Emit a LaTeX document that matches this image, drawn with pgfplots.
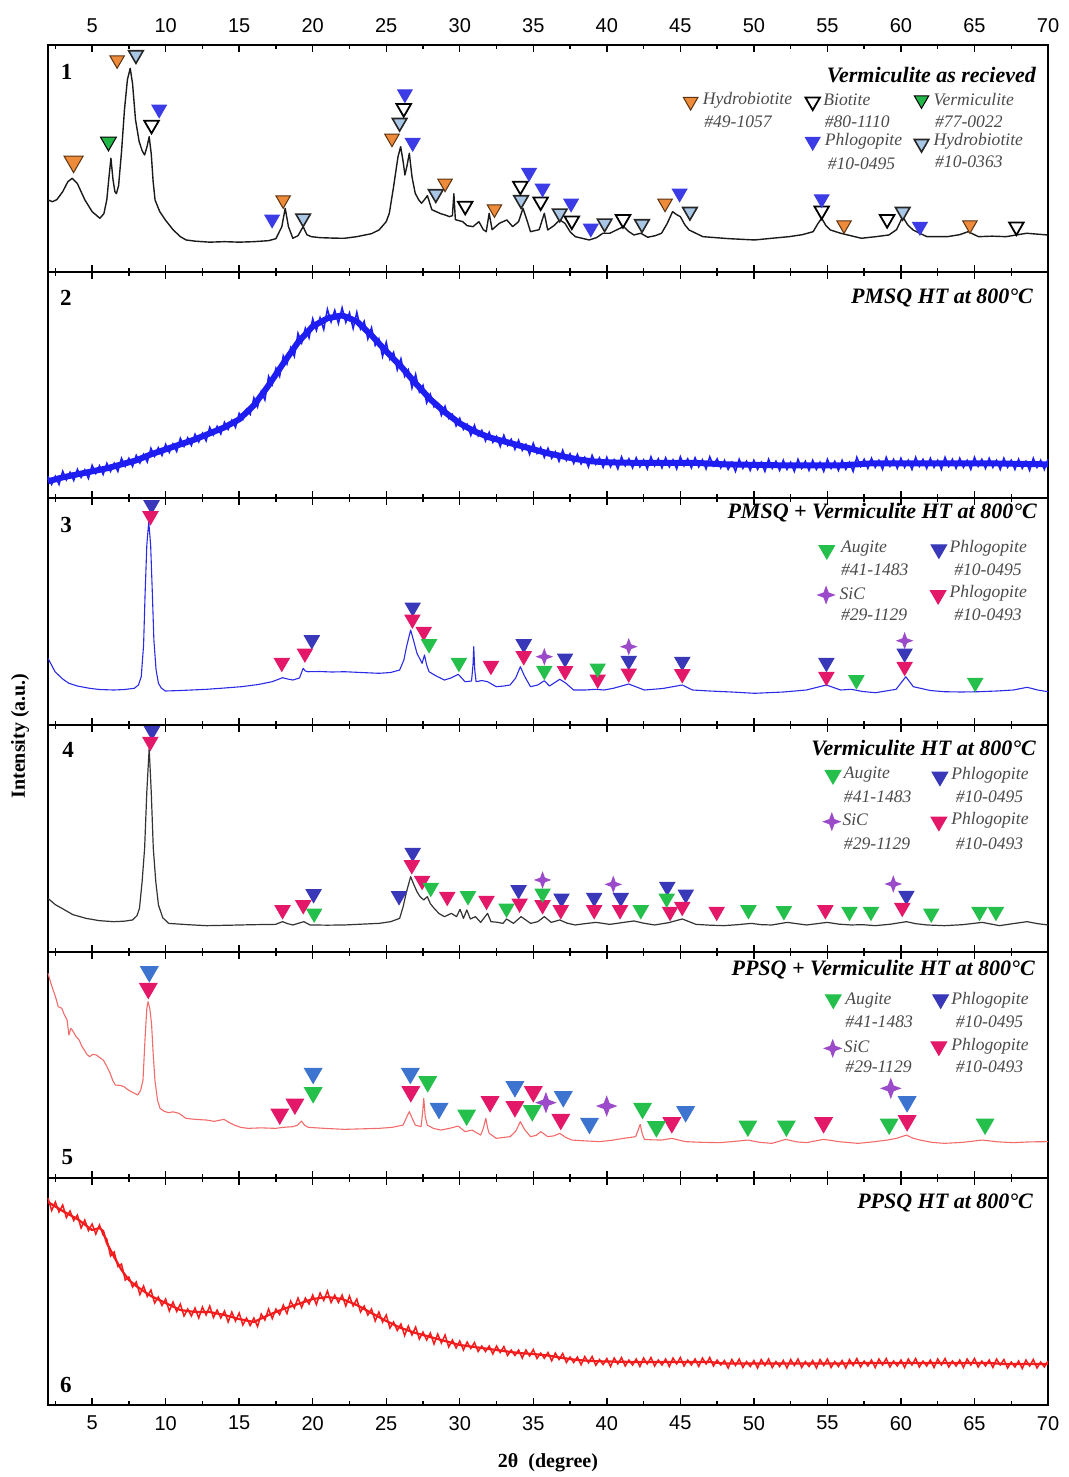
\documentclass[border=0pt]{standalone}
\usepackage{fontspec}
\setmainfont{Liberation Serif}
\setsansfont{Liberation Sans}
\usepackage{pgfplots}
\pgfplotsset{compat=1.18}

\definecolor{orgC}{HTML}{EE8B3A}
\definecolor{orgD}{HTML}{5A3210}
\definecolor{grnC}{HTML}{22B548}
\definecolor{bluC}{HTML}{3C3CE6}
\definecolor{lbC}{HTML}{A9C6E4}
\definecolor{dblu}{HTML}{3838B8}
\definecolor{mag}{HTML}{E31868}
\definecolor{pur}{HTML}{9B4BC9}
\definecolor{grn2}{HTML}{25C04C}
\definecolor{blu5}{HTML}{3D74CF}
\definecolor{lgray}{HTML}{4A4A4A}
\definecolor{tr1}{HTML}{1A1A1A}
\definecolor{tr2}{HTML}{1E1EF2}
\definecolor{tr3}{HTML}{2B2BE6}
\definecolor{tr4}{HTML}{333333}
\definecolor{tr5}{HTML}{F26B6B}
\definecolor{tr6}{HTML}{F21C1C}

\pgfdeclareplotmark{dtri}{%
  \pgfpathmoveto{\pgfqpoint{-0.866\pgfplotmarksize}{0.5\pgfplotmarksize}}%
  \pgfpathlineto{\pgfqpoint{0.866\pgfplotmarksize}{0.5\pgfplotmarksize}}%
  \pgfpathlineto{\pgfqpoint{0pt}{-\pgfplotmarksize}}%
  \pgfpathclose
  \pgfusepathqfillstroke}
\pgfdeclareplotmark{star4}{%
  \pgfpathmoveto{\pgfqpoint{0pt}{\pgfplotmarksize}}%
  \pgfpathlineto{\pgfqpoint{0.27\pgfplotmarksize}{0.27\pgfplotmarksize}}%
  \pgfpathlineto{\pgfqpoint{\pgfplotmarksize}{0pt}}%
  \pgfpathlineto{\pgfqpoint{0.27\pgfplotmarksize}{-0.27\pgfplotmarksize}}%
  \pgfpathlineto{\pgfqpoint{0pt}{-\pgfplotmarksize}}%
  \pgfpathlineto{\pgfqpoint{-0.27\pgfplotmarksize}{-0.27\pgfplotmarksize}}%
  \pgfpathlineto{\pgfqpoint{-\pgfplotmarksize}{0pt}}%
  \pgfpathlineto{\pgfqpoint{-0.27\pgfplotmarksize}{0.27\pgfplotmarksize}}%
  \pgfpathclose
  \pgfusepathqfill}

\pgfplotsset{
  xrdpanel/.style={
    scale only axis, width=500pt, height=113.33pt,
    xmin=2, xmax=70, ymin=0, ymax=226.67,
    xtick={5,10,...,70}, minor xtick={2.5,7.5,...,67.5}, ytick=\empty,
    tick align=inside,
    major tick length=3.5pt, minor tick length=2pt,
    every tick/.style={black, line width=0.7pt},
    axis line style={black, line width=1.1pt},
    clip=false, anchor=south west,
    tick label style={font=\fontsize{10}{12}\selectfont\sffamily},
    /pgf/number format/assume math mode=true,
  },
  mk/.style n args={3}{only marks, mark=dtri, mark size=#1, mark options={fill=#2, draw=#3, line width=0.5pt}},
  st/.style n args={2}{only marks, mark=star4, mark size=#1, mark options={fill=#2, draw=#2}},
}
\tikzset{
  ttl/.style={anchor=east, inner sep=0pt, font=\fontsize{11}{12}\selectfont\bfseries\itshape},
  lg/.style={anchor=west, inner sep=0pt, text=lgray, font=\fontsize{8.8}{10}\selectfont\itshape},
  pn/.style={anchor=west, inner sep=0pt, font=\fontsize{11.5}{12}\selectfont\bfseries},
}

\begin{document}
\begin{tikzpicture}

% ---------------- Panel 1 ----------------
\begin{axis}[xrdpanel, at={(24pt,-135.83pt)}, xticklabel pos=right, xtick pos=both, xticklabel style={yshift=2.5pt}]
\addplot[color=tr1, line width=0.7pt, line join=round] coordinates {
(2.0,71.7)(2.3,70)(2.6,72)(3.0,80)(3.35,90)(3.65,93.4)(4.0,88)(4.5,72)(5.0,60)(5.53,53.4)(5.8,58)(6.0,72)(6.15,95)(6.28,113.4)(6.42,92)(6.55,80)(6.65,78)(6.8,86)(7.0,120)(7.2,162)(7.4,192)(7.59,203.4)(7.75,188)(7.95,152)(8.2,130)(8.4,121)(8.57,116.7)(8.75,126)(8.88,135)(9.02,118)(9.15,90)(9.28,71.7)(9.6,60)(9.98,51.7)(10.5,42)(11.0,35)(11.39,31.7)(12,30.5)(13,29.5)(14,30)(15,29.5)(16,30)(17,31)(17.5,33)(17.9,45)(18.13,63.4)(18.35,45)(18.65,33.4)(19.0,36)(19.35,45)(19.6,37)(19.9,35)(20.5,34)(21.5,33.5)(22.16,33.4)(23,35)(24,38)(24.51,41.7)(25.0,50)(25.21,58.4)(25.5,85)(25.8,115)(25.98,125)(26.15,110)(26.27,96.7)(26.4,105)(26.57,118.4)(26.75,95)(26.97,78.4)(27.2,72)(27.4,68.4)(27.6,72)(27.8,76)(28.1,62)(28.4,60)(28.7,58)(29.0,56.7)(29.3,55)(29.5,56)(29.6,78)(29.7,52)(30.2,50)(30.5,46)(30.9,45)(31.3,50)(31.6,42)(31.8,40)(32.0,58.4)(32.2,42)(32.7,48.4)(33.2,51.7)(33.6,45)(34.0,50)(34.3,63.4)(34.6,50)(34.81,40)(35.4,42)(35.75,58.4)(35.98,41.7)(36.4,46)(36.8,51.7)(37.15,48.4)(37.5,40)(37.85,35)(38.8,31.7)(39.3,34)(39.73,38.4)(40.2,38.4)(40.7,42)(41.14,45)(41.5,40)(41.84,36.7)(42.31,38.4)(42.78,34.4)(43.3,36)(43.72,38.4)(44.1,48)(44.47,60)(44.75,57)(45.0,55)(45.3,47)(45.59,41.7)(46.53,35)(48.3,33)(50.05,31.7)(51.3,33.5)(52.39,35)(53.3,37)(54.03,40)(54.35,48)(54.61,53.4)(54.9,46)(55.2,41.7)(55.9,38.4)(57.31,33.4)(58.3,35)(59.18,36.7)(59.7,42)(60.12,55)(60.45,47)(60.82,41.7)(61.76,35)(63.16,35)(64.0,37)(64.57,40)(65.27,35)(66.2,35.5)(67.15,35)(68.55,38.4)(69.96,36.7)};
\addplot[mk={5.5pt}{orgC}{orgD}] coordinates {(3.74,110)};
\addplot[mk={4.2pt}{orgC}{orgD}] coordinates {(6.7,211.7)(17.99,71.7)(25.39,133.4)(29.0,88.4)(32.36,62.7)(43.96,68.4)(56.13,46.7)(64.69,46.7)};
\addplot[mk={4.6pt}{grnC}{black}] coordinates {(6.11,130)};
\addplot[only marks, mark=dtri, mark size=4.2pt, mark options={fill=lbC, draw=black!85, line width=0.8pt}] coordinates {(7.98,216.7)(19.35,53.4)(25.91,149)(28.37,77.7)(34.17,71.7)(36.8,58.4)(39.85,48.4)(42.39,47.7)(45.65,60)(60.12,60)};
\addplot[only marks, mark=dtri, mark size=4.2pt, mark options={fill=white, draw=black, line width=0.9pt}] coordinates {(9.04,146.7)(26.19,163.4)(30.37,65.7)(34.12,85.7)(35.5,70)(37.62,51)(41.1,52.4)(54.61,61)(59.06,52.4)(67.85,45)};
\addplot[mk={4.2pt}{bluC}{bluC}] coordinates {(9.56,162.4)(17.24,52.4)(26.27,177.7)(26.8,129)(34.71,99)(35.63,83.4)(37.57,68.4)(38.91,43.4)(44.95,78.4)(54.61,72.7)(61.29,45)};
% legend markers
\addplot[mk={4.2pt}{orgC}{orgD}] coordinates {(45.7,170)};
\addplot[only marks, mark=dtri, mark size=4.2pt, mark options={fill=white, draw=black, line width=0.9pt}] coordinates {(54.0,170)};
\addplot[mk={4.2pt}{grnC}{black}] coordinates {(61.4,171.7)};
\addplot[mk={4.2pt}{bluC}{bluC}] coordinates {(54.0,130)};
\addplot[only marks, mark=dtri, mark size=4.2pt, mark options={fill=lbC, draw=black!85, line width=0.8pt}] coordinates {(61.4,128)};
\node[ttl] at (axis cs:69.2,196.7) {Vermiculite as recieved};
\node[lg] at (axis cs:46.5,171.7) {Hydrobiotite};
\node[lg] at (axis cs:46.6,150) {\#49-1057};
\node[lg] at (axis cs:54.7,171.7) {Biotite};
\node[lg] at (axis cs:54.8,150) {\#80-1110};
\node[lg] at (axis cs:62.2,171.7) {Vermiculite};
\node[lg] at (axis cs:62.3,150) {\#77-0022};
\node[lg] at (axis cs:54.8,130) {Phlogopite};
\node[lg] at (axis cs:55.0,108.4) {\#10-0495};
\node[lg] at (axis cs:62.2,130) {Hydrobiotite};
\node[lg] at (axis cs:62.3,110) {\#10-0363};
\node[pn] at (axis cs:2.85,200) {1};
\end{axis}

% ---------------- Panel 2 ----------------
\begin{axis}[xrdpanel, at={(24pt,-249.17pt)}, xtick pos=both, xticklabels={}]
\addplot[color=tr2, line width=3pt, line join=round] coordinates {
(2,17)(3,21)(4,24)(5,27)(6,30)(7,34)(8,38)(9,44)(10,49)(11,54)(12,59)(13,65)(14,71)(15,79)(16,93)(17,113)(18,135)(19,156)(20,172)(21,180)(22,183)(23,177)(24,163)(25,147)(26,132)(27,115)(28,99)(29,86)(30,75)(31,67)(32,61)(33,57)(34,53)(35,49)(36,45)(37,42)(38,39)(39,37)(40,36)(42,35.5)(46,35.5)(48,34)(52,33)(56,33)(58,35)(66,35)(68,34.5)(70,34)};
\addplot[color=tr2, line width=0.8pt] coordinates {
(2,22)(2.25,14)(2.5,22)(2.75,14)(3,27)(3.25,18.5)(3.5,26)(3.75,18)(4,29)(4.25,21)(4.5,28.5)(4.75,20)(5,33)(5.25,25)(5.5,32.5)(5.75,24)(6,35)(6.25,27)(6.5,35)(6.75,27)(7,40)(7.25,32)(7.5,40)(7.75,32)(8,43)(8.25,35.5)(8.5,44)(8.75,36.5)(9,50)(9.25,42)(9.5,50.5)(9.75,43)(10,54)(10.25,46)(10.5,54.5)(10.75,47)(11,60)(11.25,52)(11.5,60.5)(11.75,53)(12,64)(12.25,56.5)(12.5,65)(12.75,57.5)(13,71)(13.25,63.5)(13.5,72)(13.75,64.5)(14,76)(14.25,69)(14.5,78)(14.75,71)(15,85)(15.25,79)(15.5,89)(15.75,84)(16,100.5)(16.25,91.5)(16.5,106.5)(16.75,98.5)(17,122)(17.25,114)(17.5,130)(17.75,122)(18,142.5)(18.25,134.5)(18.5,150.5)(18.75,142)(19,165)(19.25,155.5)(19.5,170)(19.75,160.5)(20,179.5)(20.25,168)(20.5,180.5)(20.75,169)(21,189)(21.25,176.5)(21.5,188)(21.75,175)(22,190.5)(22.25,176)(22.5,185.5)(22.75,170)(23,186)(23.25,169.5)(23.5,177)(23.75,159.5)(24,170.5)(24.25,153)(24.5,159.5)(24.75,142)(25,156)(25.25,139)(25.5,146)(25.75,128.5)(26,139.5)(26.25,122)(26.5,128.5)(26.75,110.5)(27,124)(27.25,106.5)(27.5,113)(27.75,95.5)(28,104)(28.25,91.5)(28.5,95)(28.75,83)(29,92)(29.25,80)(29.5,84)(29.75,72.5)(30,80)(30.25,69)(30.5,74)(30.75,63)(31,73)(31.25,62.5)(31.5,68)(31.75,57.5)(32,66)(32.25,56)(32.5,62)(32.75,52)(33,63)(33.25,53)(33.5,59)(33.75,49)(34,58)(34.25,48)(34.5,54)(34.75,44)(35,55)(35.25,45)(35.5,51)(35.75,41)(36,50)(36.25,40)(36.5,46.5)(36.75,37)(37,48)(37.25,38)(37.5,44.5)(37.75,35)(38,44)(38.25,34.5)(38.5,41)(38.75,31.5)(39,43)(39.25,34)(39.5,40.5)(39.75,31)(40,41)(40.25,31.5)(40.5,38.5)(40.75,29.5)(41,41.5)(41.25,32.5)(41.5,39.5)(41.75,30.5)(42,40.5)(42.25,31.5)(42.5,38.5)(42.75,29.5)(43,41.5)(43.25,32.5)(43.5,39.5)(43.75,30.5)(44,40.5)(44.25,31.5)(44.5,38.5)(44.75,29.5)(45,41.5)(45.25,32.5)(45.5,39.5)(45.75,30.5)(46,40.5)(46.25,31.5)(46.5,38.5)(46.75,29.5)(47,41.5)(47.25,32.5)(47.5,39.5)(47.75,30.5)(48,38)(48.25,29)(48.5,36)(48.75,27)(49,39)(49.25,30)(49.5,37)(49.75,28)(50,38)(50.25,29)(50.5,36)(50.75,27)(51,39)(51.25,30)(51.5,37)(51.75,28)(52,38)(52.25,29)(52.5,36)(52.75,27)(53,39)(53.25,30)(53.5,37)(53.75,28)(54,38)(54.25,29)(54.5,36)(54.75,27)(55,39)(55.25,30)(55.5,37)(55.75,28)(56,38)(56.25,29)(56.5,36)(56.75,27)(57,41)(57.25,32)(57.5,39)(57.75,30)(58,40)(58.25,31)(58.5,38)(58.75,29)(59,41)(59.25,32)(59.5,39)(59.75,30)(60,40)(60.25,31)(60.5,38)(60.75,29)(61,41)(61.25,32)(61.5,39)(61.75,30)(62,40)(62.25,31)(62.5,38)(62.75,29)(63,41)(63.25,32)(63.5,39)(63.75,30)(64,40)(64.25,31)(64.5,38)(64.75,29)(65,41)(65.25,32)(65.5,39)(65.75,30)(66,40)(66.25,31)(66.5,38)(66.75,29)(67,40)(67.25,31)(67.5,38)(67.75,29)(68,39)(68.25,30)(68.5,37)(68.75,28)(69,40)(69.25,31)(69.5,38)(69.75,29)(70,39)};
\node[ttl] at (axis cs:69.0,200) {PMSQ HT at 800°C};
\node[pn] at (axis cs:2.8,200) {2};
\end{axis}

% ---------------- Panel 3 ----------------
\begin{axis}[xrdpanel, at={(24pt,-362.5pt)}, xtick pos=both, xticklabels={}]
\addplot[color=tr3, line width=0.55pt, line join=round] coordinates {
(2.0,66.7)(2.48,53.3)(3.0,46)(3.42,41.7)(4.0,39)(4.83,36.7)(5.5,35.5)(6.47,35)(7.2,35.5)(7.87,36.7)(8.15,40)(8.34,48.3)(8.5,80)(8.6,130)(8.72,180)(8.85,203.3)(8.98,180)(9.1,130)(9.2,85)(9.35,55)(9.51,41.7)(9.7,37)(9.98,34)(11,34.5)(12.79,35.7)(14,37)(15.14,38.3)(16.3,40.5)(17.24,43.3)(17.95,47.3)(18.3,46)(18.65,45)(19.1,47)(19.35,56.7)(19.5,54)(19.7,53.3)(20.5,53.5)(21.3,53)(22.16,53.3)(23.3,52.5)(24.51,51.7)(25.3,52.5)(25.91,55)(26.2,65)(26.38,78.3)(26.66,95)(26.85,85)(27.09,71.7)(27.44,61.7)(27.6,70)(27.75,60)(27.91,53.3)(28.4,49)(28.96,45)(29.4,47)(29.9,50.7)(30.36,43.3)(30.8,44)(30.9,60)(30.95,78.3)(31.02,55)(31.11,43.3)(31.5,44.5)(31.89,43.3)(32.48,38.3)(33.0,39)(33.42,40)(33.8,47)(34.12,58.3)(34.4,49)(34.81,38.3)(35.3,40)(35.75,44.3)(36.1,39)(36.8,45.7)(37.2,42)(37.74,35)(38.5,35)(39.26,35.7)(39.8,35)(40.44,36.7)(41.49,41)(42.55,35)(43.8,36.5)(45.13,40)(45.83,35)(47,34)(48.5,33)(50.05,31.7)(52,33)(53.57,35)(54.93,40)(55.9,35)(56.62,35.7)(57.4,33.5)(58.26,32.3)(59.67,35.7)(60.33,48.3)(60.84,38.3)(62.0,34.5)(62.95,33.3)(64.1,33)(65.3,33.3)(66.5,34)(67.64,35)(68.58,37.7)(69.3,35)(69.99,33.3)};
\addplot[mk={4.3pt}{dblu}{dblu}] coordinates {(9.04,220)(19.94,85)(26.8,117.7)(34.35,81)(37.16,66.7)(41.49,64.3)(45.13,63.3)(54.93,62.3)(60.25,71.7)};
\addplot[mk={4.3pt}{mag}{mag}] coordinates {(8.97,209)(17.9,62.3)(19.47,71.7)(26.78,105.7)(27.55,93.3)(32.12,59.3)(34.35,69)(37.16,54)(39.38,45.7)(41.49,51.7)(45.13,51)(54.93,48.3)(60.25,58.3)};
\addplot[mk={4.3pt}{grn2}{grn2}] coordinates {(27.91,81)(29.94,62.3)(35.75,54.3)(39.38,56.7)(56.97,45)(65.05,42.3)};
\addplot[st={4.4pt}{pur}] coordinates {(35.75,68.3)(41.49,78.3)(60.25,84.3)};
% legend
\addplot[mk={4.5pt}{grn2}{grn2}] coordinates {(54.96,175)};
\addplot[mk={4.5pt}{dblu}{dblu}] coordinates {(62.58,175.7)};
\addplot[st={4.8pt}{pur}] coordinates {(54.91,130)};
\addplot[mk={4.5pt}{mag}{mag}] coordinates {(62.53,130)};
\node[ttl] at (axis cs:69.26,212) {PMSQ + Vermiculite HT at 800°C};
\node[lg] at (axis cs:55.9,176.7) {Augite};
\node[lg] at (axis cs:55.9,155) {\#41-1483};
\node[lg] at (axis cs:63.28,176.7) {Phlogopite};
\node[lg] at (axis cs:63.6,155) {\#10-0495};
\node[lg] at (axis cs:55.8,131.7) {SiC};
\node[lg] at (axis cs:55.9,110) {\#29-1129};
\node[lg] at (axis cs:63.28,131.7) {Phlogopite};
\node[lg] at (axis cs:63.6,110) {\#10-0493};
\node[pn] at (axis cs:2.82,200) {3};
\end{axis}

% ---------------- Panel 4 ----------------
\begin{axis}[xrdpanel, at={(24pt,-475.83pt)}, xtick pos=both, xticklabels={}]
\addplot[color=tr4, line width=0.6pt, line join=round] coordinates {
(2.0,53.3)(2.5,47)(2.95,43.3)(3.7,37)(4.59,33.3)(5.5,31)(6.47,30)(7.2,30.5)(7.75,31.7)(8.05,36)(8.22,43.3)(8.4,70)(8.57,103.3)(8.72,160)(8.88,203.3)(9.02,160)(9.16,103.3)(9.33,70)(9.51,46.7)(9.8,34)(10.21,28.3)(11.5,27)(12.79,26)(14.5,26.5)(16,27)(17.47,27.3)(17.95,30)(18.3,28)(18.65,26.7)(19.4,30)(19.82,26.7)(21,26.5)(22.16,26.7)(23.3,27.5)(24.51,28.3)(25.3,30)(25.91,33.3)(26.15,45)(26.38,60)(26.66,75)(26.85,68)(27.09,60)(27.3,55)(27.55,51.7)(27.79,55)(28.0,48)(28.26,43.3)(28.6,38)(28.96,35)(29.43,38.3)(29.78,35)(30.02,42.3)(30.25,33.3)(30.48,41.7)(30.72,32.7)(31.07,35)(31.42,29.3)(31.89,38.3)(32.12,30)(32.5,29.5)(32.94,28.3)(33.18,32.7)(33.65,28.3)(34.17,35)(34.82,28.3)(35.3,30)(35.75,35)(36.22,29.3)(36.8,31.7)(37.3,28.5)(37.85,26.7)(38.5,28)(39.26,29.3)(40.2,27.3)(41.0,29)(41.84,30.7)(42.5,28.5)(43.25,26.7)(44.2,29)(45.13,32.7)(46.06,27.3)(47.0,26.5)(47.94,26)(48.9,27)(49.82,28.3)(50.5,27)(51.22,26.7)(52.27,29.3)(53.57,26.7)(54.3,28)(54.97,29.3)(55.8,27.5)(56.62,26.7)(57.4,27)(58.26,26)(59.3,27.5)(60.37,30)(61.0,28)(61.78,26.7)(62.95,26)(64.2,27)(65.53,29.3)(66.7,26)(67.6,28)(68.58,30)(69.3,28)(69.99,26.7)};
\addplot[mk={4.3pt}{dblu}{dblu}] coordinates {(9.07,220.7)(20.06,57.7)(25.87,55.7)(26.8,99)(34.0,61.7)(36.92,53.3)(39.14,54)(40.95,54)(44.11,65)(45.37,57.3)(60.37,56)};
\addplot[mk={4.3pt}{mag}{mag}] coordinates {(8.96,210)(17.95,41.7)(19.36,46.7)(26.74,86.7)(27.44,71)(29.15,55)(31.82,51)(34.07,48.3)(35.63,46.7)(36.87,41.7)(39.14,41.7)(40.9,41.7)(44.3,40)(45.13,45)(47.47,40)(54.86,41.7)(60.09,44)};
\addplot[mk={4.3pt}{grn2}{grn2}] coordinates {(20.1,38.3)(28.03,64)(30.56,55.7)(33.18,43.3)(35.63,58.3)(42.31,41.7)(44.07,53.3)(49.63,41.7)(52.04,40.7)(56.5,40)(57.96,40)(62.06,38.3)(65.34,40)(66.46,40)};
\addplot[st={4.4pt}{pur}] coordinates {(35.63,71.7)(40.44,67.3)(59.48,67.7)};
% legend
\addplot[mk={4.5pt}{grn2}{grn2}] coordinates {(55.38,176.7)};
\addplot[mk={4.5pt}{dblu}{dblu}] coordinates {(62.65,175)};
\addplot[st={4.8pt}{pur}] coordinates {(55.3,130)};
\addplot[mk={4.5pt}{mag}{mag}] coordinates {(62.58,130)};
\node[ttl] at (axis cs:69.2,203.3) {Vermiculite HT at 800°C};
\node[lg] at (axis cs:56.1,176.7) {Augite};
\node[lg] at (axis cs:56.1,155) {\#41-1483};
\node[lg] at (axis cs:63.4,176.7) {Phlogopite};
\node[lg] at (axis cs:63.7,155) {\#10-0495};
\node[lg] at (axis cs:56.0,131.7) {SiC};
\node[lg] at (axis cs:56.1,108.3) {\#29-1129};
\node[lg] at (axis cs:63.4,131.7) {Phlogopite};
\node[lg] at (axis cs:63.7,108.3) {\#10-0493};
\node[pn] at (axis cs:2.95,201.7) {4};
\end{axis}

% ---------------- Panel 5 ----------------
\begin{axis}[xrdpanel, at={(24pt,-589.17pt)}, xtick pos=both, xticklabels={}]
\addplot[color=tr5, line width=0.55pt, line join=round] coordinates {
(2.0,205)(2.2,195)(2.35,188.3)(2.5,182)(2.7,171.7)(2.94,170)(3.1,164)(3.3,158.3)(3.42,143.3)(3.55,150)(3.65,148.3)(3.9,142)(4.12,138.3)(4.3,132)(4.47,128.3)(4.65,124)(4.83,121.7)(5.05,124)(5.3,123.3)(5.5,121)(5.76,118.3)(6.0,112)(6.23,105)(6.4,98)(6.58,93.3)(6.9,93)(7.17,91.7)(7.4,89)(7.64,86.7)(7.9,85)(8.1,83.3)(8.3,88)(8.46,98.3)(8.6,140)(8.72,170)(8.8,176.7)(8.92,170)(9.04,155)(9.15,125)(9.27,98.3)(9.45,78)(9.62,70)(9.9,67)(10.21,65.7)(10.5,66.5)(10.91,65)(11.1,63)(11.38,60)(12.0,59)(12.79,58.3)(13.3,57)(13.96,59)(14.3,56)(14.66,53.3)(15.1,51)(15.6,50)(16.5,50.5)(17.47,50)(18.0,51)(18.65,51.7)(18.95,53)(19.24,57.3)(19.45,53)(19.7,51)(20.8,50)(22.16,49)(23.3,49.5)(24.51,50)(25.4,51)(26.15,53.3)(26.35,60)(26.57,66.7)(26.77,60)(26.97,53.3)(27.37,51.7)(27.47,65)(27.55,80)(27.65,62)(27.79,53.3)(28.2,50)(28.72,48.3)(29.3,50)(29.9,52.3)(30.36,46.7)(30.83,48.3)(31.1,46)(31.42,43.3)(31.6,50)(31.77,60)(31.9,50)(32.0,45)(32.48,40)(33.0,41)(33.42,41.7)(33.8,47)(34.12,56.7)(34.4,49)(34.81,41.7)(35.2,43)(35.51,46.7)(35.98,41.7)(36.4,42.5)(36.8,45)(37.2,41)(37.62,38.3)(38.5,37.5)(39.5,36.7)(40.3,38)(41.14,40)(41.96,41.7)(42.12,48)(42.27,54)(42.4,45)(42.55,39)(43.1,38.5)(43.72,38.3)(44.42,40)(45.36,36.7)(46.5,36)(47.71,35.7)(48.7,37)(49.59,38.3)(50.4,36)(51.22,35)(52.16,39)(52.9,36.5)(53.57,35.7)(54.74,39)(55.9,36.5)(57.08,35)(58.1,36.5)(59.07,38.3)(59.7,40)(60.37,43.3)(60.84,40)(61.31,38.3)(62.1,36)(62.95,35)(64.2,36)(65.53,38.3)(66.6,36.5)(67.64,35.7)(68.8,36.5)(69.99,36.7)};
\addplot[mk={5pt}{blu5}{blu5}] coordinates {(8.89,206.7)(20.03,105)(26.64,105)(28.59,70)(33.75,91.7)(37.04,81.7)(38.82,55)(45.36,66.7)(60.42,76.7)};
\addplot[mk={5pt}{mag}{mag}] coordinates {(8.82,190)(17.76,64.3)(18.79,74.3)(26.67,86.7)(32.06,76.7)(33.75,71.7)(35.0,86.7)(36.87,59)(44.42,55.7)(54.74,55.7)(60.42,57.7)};
\addplot[mk={5pt}{grn2}{grn2}] coordinates {(20.03,85.7)(27.82,96.7)(30.47,63.3)(34.93,67.7)(42.43,70)(43.37,51.7)(49.59,52.3)(52.21,52.3)(59.2,54.3)(65.72,54.3)};
\addplot[st={5.4pt}{pur}] coordinates {(35.86,75.7)(39.99,72.3)(59.31,90)};
% legend
\addplot[mk={4.5pt}{grn2}{grn2}] coordinates {(55.4,179)};
\addplot[mk={4.5pt}{dblu}{dblu}] coordinates {(62.7,179)};
\addplot[st={4.8pt}{pur}] coordinates {(55.36,130)};
\addplot[mk={4.5pt}{mag}{mag}] coordinates {(62.58,132)};
\node[ttl] at (axis cs:69.12,208.3) {PPSQ + Vermiculite HT at 800°C};
\node[lg] at (axis cs:56.2,178.3) {Augite};
\node[lg] at (axis cs:56.2,156.7) {\#41-1483};
\node[lg] at (axis cs:63.4,178.3) {Phlogopite};
\node[lg] at (axis cs:63.7,156.7) {\#10-0495};
\node[lg] at (axis cs:56.1,131.7) {SiC};
\node[lg] at (axis cs:56.2,111.7) {\#29-1129};
\node[lg] at (axis cs:63.4,131.7) {Phlogopite};
\node[lg] at (axis cs:63.7,111.7) {\#10-0493};
\node[pn] at (axis cs:2.9,21.7) {5};
\end{axis}

% ---------------- Panel 6 ----------------
\begin{axis}[xrdpanel, at={(24pt,-702.5pt)}, xticklabel pos=left, xtick pos=both, xticklabel style={yshift=-2pt}]
\addplot[color=tr6, line width=1.1pt, line join=round] coordinates {
(2,203)(3,194)(4,186)(5,175)(5.5,177)(5.75,174)(6,162)(6.5,148)(7,135)(7.5,125)(8,119)(9,109)(10,102)(11,95)(12,93)(13,93)(14,90)(15,86)(16,83)(17,90)(18,96)(19,101)(20,106)(21,108)(22,106)(23,100)(24,92)(25,84)(26,77)(27,72)(28,68)(29,64)(30,60)(31,58)(32,56)(33,54)(34,52)(35,51)(36,49.5)(37,47)(38,45)(39,44)(40,43.5)(42,43)(47,43)(48,41.5)(56,41.5)(57,42)(66,42)(67,41)(70,41)};
\addplot[color=tr6, line width=0.75pt] coordinates {
(2,207)(2.25,194.5)(2.5,203)(2.75,193)(3,200)(3.25,187.5)(3.5,194)(3.75,184.5)(4,190)(4.25,177)(4.5,185)(4.75,174.5)(5,181)(5.25,171)(5.5,180)(5.75,170)(6,166)(6.25,149)(6.5,153)(6.75,138.5)(7,141)(7.25,125)(7.5,128)(7.75,118)(8,123)(8.25,110.5)(8.5,119)(8.75,108.5)(9,115)(9.25,102)(9.5,108)(9.75,99.5)(10,106)(10.25,94)(10.5,103)(10.75,93.5)(11,101)(11.25,89)(11.5,96)(11.75,89)(12,97)(12.25,87)(12.5,98)(12.75,90)(13,99)(13.25,87.5)(13.5,95)(13.75,87)(14,94)(14.25,83)(14.5,93)(14.75,84)(15,92)(15.25,80)(15.5,87)(15.75,79.5)(16,87)(16.25,78.5)(16.5,91)(16.75,85)(17,96)(17.25,86.5)(17.5,96)(17.75,90.5)(18,100)(18.25,91.5)(18.5,104)(18.75,97)(19,107)(19.25,97.5)(19.5,107)(19.75,101)(20,110)(20.25,100.5)(20.5,112)(20.75,104.5)(21,114)(21.25,102.5)(21.5,110)(21.75,102.5)(22,110)(22.25,99)(22.5,109)(22.75,99)(23,106)(23.25,93)(23.5,99)(23.75,90)(24,96)(24.25,84)(24.5,93)(24.75,83)(25,90)(25.25,77)(25.5,83)(25.75,74.5)(26,81)(26.25,69.5)(26.5,79)(26.75,70)(27,78)(27.25,66)(27.5,73)(27.75,65)(28,72)(28.25,61)(28.5,71)(28.75,62)(29,70)(29.25,58)(29.5,65)(29.75,57)(30,64)(30.25,55)(30.5,63)(30.75,56.5)(31,62.5)(31.25,53.5)(31.5,59)(31.75,53.5)(32,59)(32.25,51)(32.5,59)(32.75,52.5)(33,58.5)(33.25,49.5)(33.5,55)(33.75,49.5)(34,55)(34.25,47)(34.5,55)(34.75,49)(35,55.5)(35.25,46.5)(35.5,52)(35.75,46.75)(36,52.5)(36.25,44.25)(36.5,52)(36.75,45.5)(37,51.5)(37.25,42.5)(37.5,48)(37.75,42.5)(38,48)(38.25,40.25)(38.5,48.5)(38.75,42.25)(39,48.5)(39.25,39.75)(39.5,45.5)(39.75,40.5)(40,46.5)(40.25,38.5)(40.5,47)(40.75,41)(41,47.5)(41.25,39)(41.5,45)(41.75,40)(42,46)(42.25,38.5)(42.5,47)(42.75,41)(43,47.5)(43.25,39)(43.5,45)(43.75,40)(44,46)(44.25,38.5)(44.5,47)(44.75,41)(45,47.5)(45.25,39)(45.5,45)(45.75,40)(46,46)(46.25,38.5)(46.5,47)(46.75,41)(47,47.5)(47.25,39)(47.5,45)(47.75,40)(48,44.5)(48.25,37)(48.5,45.5)(48.75,39.5)(49,46)(49.25,37.5)(49.5,43.5)(49.75,38.5)(50,44.5)(50.25,37)(50.5,45.5)(50.75,39.5)(51,46)(51.25,37.5)(51.5,43.5)(51.75,38.5)(52,44.5)(52.25,37)(52.5,45.5)(52.75,39.5)(53,46)(53.25,37.5)(53.5,43.5)(53.75,38.5)(54,44.5)(54.25,37)(54.5,45.5)(54.75,39.5)(55,46)(55.25,37.5)(55.5,43.5)(55.75,38.5)(56,44.5)(56.25,37)(56.5,45.5)(56.75,39.5)(57,46.5)(57.25,38)(57.5,44)(57.75,39)(58,45)(58.25,37.5)(58.5,46)(58.75,40)(59,46.5)(59.25,38)(59.5,44)(59.75,39)(60,45)(60.25,37.5)(60.5,46)(60.75,40)(61,46.5)(61.25,38)(61.5,44)(61.75,39)(62,45)(62.25,37.5)(62.5,46)(62.75,40)(63,46.5)(63.25,38)(63.5,44)(63.75,39)(64,45)(64.25,37.5)(64.5,46)(64.75,40)(65,46.5)(65.25,38)(65.5,44)(65.75,39)(66,45)(66.25,37.5)(66.5,46)(66.75,40)(67,45.5)(67.25,37)(67.5,43)(67.75,38)(68,44)(68.25,36.5)(68.5,45)(68.75,39)(69,45.5)(69.25,37)(69.5,43)(69.75,38)(70,44)};
\node[ttl] at (axis cs:69.0,201.7) {PPSQ HT at 800°C};
\node[pn] at (axis cs:2.8,20) {6};
\end{axis}

\node[rotate=90, font=\fontsize{10}{12}\selectfont\bfseries] at (10pt,-368pt) {Intensity (a.u.)};
\node[font=\fontsize{10}{12}\selectfont\bfseries] at (274pt,-731.5pt) {2θ\ \ (degree)};

\pgfresetboundingbox
\path[use as bounding box] (0,0) rectangle (534.5pt,-738.5pt);
\end{tikzpicture}
\end{document}
